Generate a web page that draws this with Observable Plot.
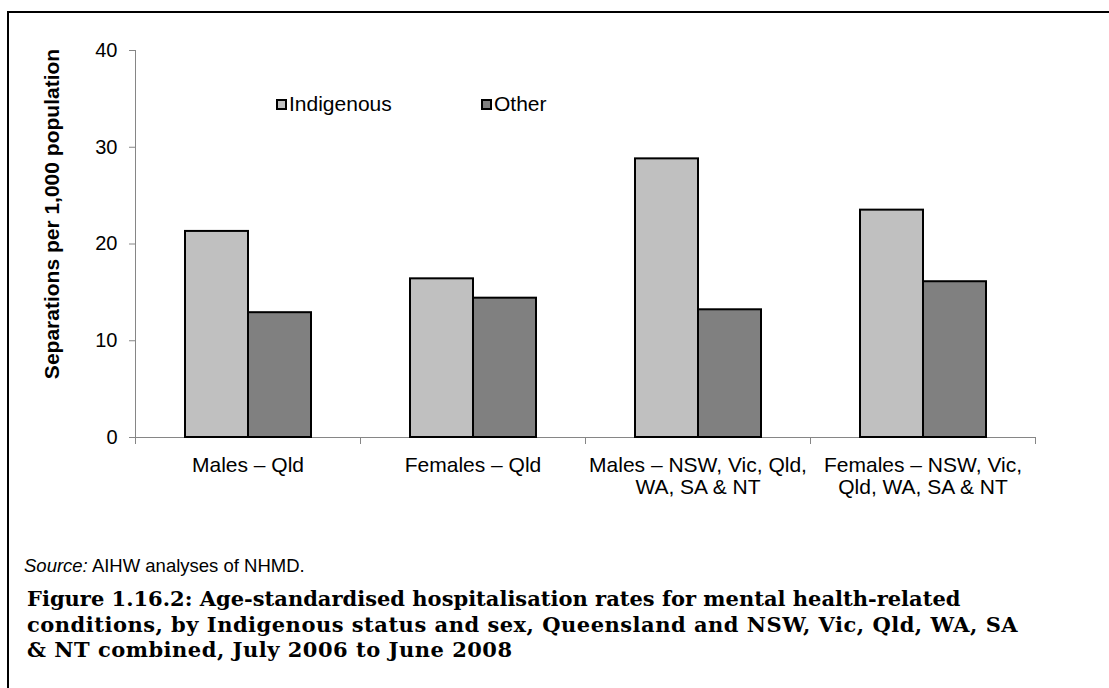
<!DOCTYPE html>
<html><head><meta charset="utf-8">
<script src="https://cdn.jsdelivr.net/npm/d3@7"></script>
<script src="https://cdn.jsdelivr.net/npm/@observablehq/plot@0.6"></script>
<style>
body{margin:0;background:#fff;}
#wrap{position:relative;width:1109px;height:688px;overflow:hidden;background:#fff;font-family:"Liberation Sans",Arial,sans-serif;color:#000;}
#border{position:absolute;left:7px;top:11px;width:1200px;height:800px;border-left:2px solid #000;border-top:2px solid #000;}
#chart{position:absolute;left:0;top:0;}
.lg{position:absolute;top:93px;font-size:21px;line-height:21px;white-space:nowrap;}
.sw{position:absolute;top:99px;width:11px;height:11px;box-sizing:border-box;border:2px solid #000;}
#source{position:absolute;left:24px;top:556px;font-size:18.5px;line-height:20px;white-space:nowrap;}
#caption{position:absolute;left:27px;top:586px;font-family:"DejaVu Serif",serif;font-weight:bold;font-size:21px;line-height:25.5px;white-space:nowrap;}
#caption div{letter-spacing:0.5px;}
#caption div:first-child{letter-spacing:0;}
</style></head>
<body>
<div id="wrap">
  <div id="border"></div>
  <div id="chart"></div>
  <div id="source"><i>Source:</i> AIHW analyses of NHMD.</div>
  <div id="caption"></div>
</div>
<script>
const categories = ["Males – Qld", "Females – Qld", "Males – NSW, Vic, Qld, WA, SA & NT", "Females – NSW, Vic, Qld, WA, SA & NT"];
const tickLabels = ["Males – Qld", "Females – Qld", "Males – NSW, Vic, Qld,\nWA, SA & NT", "Females – NSW, Vic,\nQld, WA, SA & NT"];
const series = ["Indigenous", "Other"];
const indigenous = [21.3, 16.4, 28.8, 23.5];
const other = [12.9, 14.4, 13.2, 16.1];
const yTicks = [0, 10, 20, 30, 40];
const colors = ["#c0c0c0", "#808080"];
const yLabel = "Separations per 1,000 population";
const captionLines = [
  "Figure 1.16.2: Age-standardised hospitalisation rates for mental health-related",
  "conditions, by Indigenous status and sex, Queensland and NSW, Vic, Qld, WA, SA",
  "& NT combined, July 2006 to June 2008"
];

const data = categories.flatMap((c, i) => [
  {category: c, series: series[0], value: indigenous[i]},
  {category: c, series: series[1], value: other[i]}
]);

const H = 500, mT = 50, mB = 63;
const axisGray = "#868686";
const plot = Plot.plot({
  width: 1109, height: H, marginLeft: 135, marginRight: 74, marginTop: mT, marginBottom: mB,
  style: {fontFamily: "Liberation Sans, Arial, sans-serif", background: "transparent", color: "#000", overflow: "visible"},
  fx: {domain: categories, padding: 0, axis: null},
  x: {domain: series, paddingInner: 0, paddingOuter: 0.758, axis: null},
  y: {domain: [0, 40], axis: null},
  color: {domain: series, range: colors},
  marks: [
    Plot.frame({anchor: "left", facetAnchor: "left", stroke: axisGray}),
    Plot.frame({anchor: "left", stroke: axisGray, insetTop: H - mT - mB, insetBottom: -6}),
    Plot.frame({anchor: "right", stroke: axisGray, insetTop: H - mT - mB, insetBottom: -6}),
    Plot.ruleY([0], {stroke: axisGray}),
    Plot.barY(data, {fx: "category", x: "series", y: "value", fill: "series", stroke: "#000", strokeWidth: 2}),
    Plot.axisY({ticks: yTicks, tickSize: 6, tickPadding: 12, fontSize: 20, stroke: axisGray, label: null, tickFormat: d => String(d)}),
    Plot.axisFx({anchor: "bottom", tickSize: 0, tickPadding: 19, fontSize: 21, lineHeight: 1.05, label: null, tickFormat: c => tickLabels[categories.indexOf(c)]}),
    Plot.text([{category: categories[0], t: yLabel}], {fx: "category", text: "t", frameAnchor: "left", textAnchor: "middle", lineAnchor: "middle", rotate: -90, dx: -83, dy: -30, fontSize: 21, fontWeight: "bold", fill: "#000"})
  ]
});
document.getElementById("chart").appendChild(plot);

// legend (HTML, from series/colors arrays)
const legendX = [276, 481];
const wrap = document.getElementById("wrap");
series.forEach((s, i) => {
  const sw = document.createElement("div");
  sw.className = "sw";
  sw.style.left = legendX[i] + "px";
  sw.style.background = colors[i];
  wrap.appendChild(sw);
  const t = document.createElement("div");
  t.className = "lg";
  t.style.left = (legendX[i] + 13) + "px";
  t.textContent = s;
  wrap.appendChild(t);
});

const cap = document.getElementById("caption");
captionLines.forEach(l => {
  const d = document.createElement("div");
  d.textContent = l;
  cap.appendChild(d);
});
</script>
</body></html>
